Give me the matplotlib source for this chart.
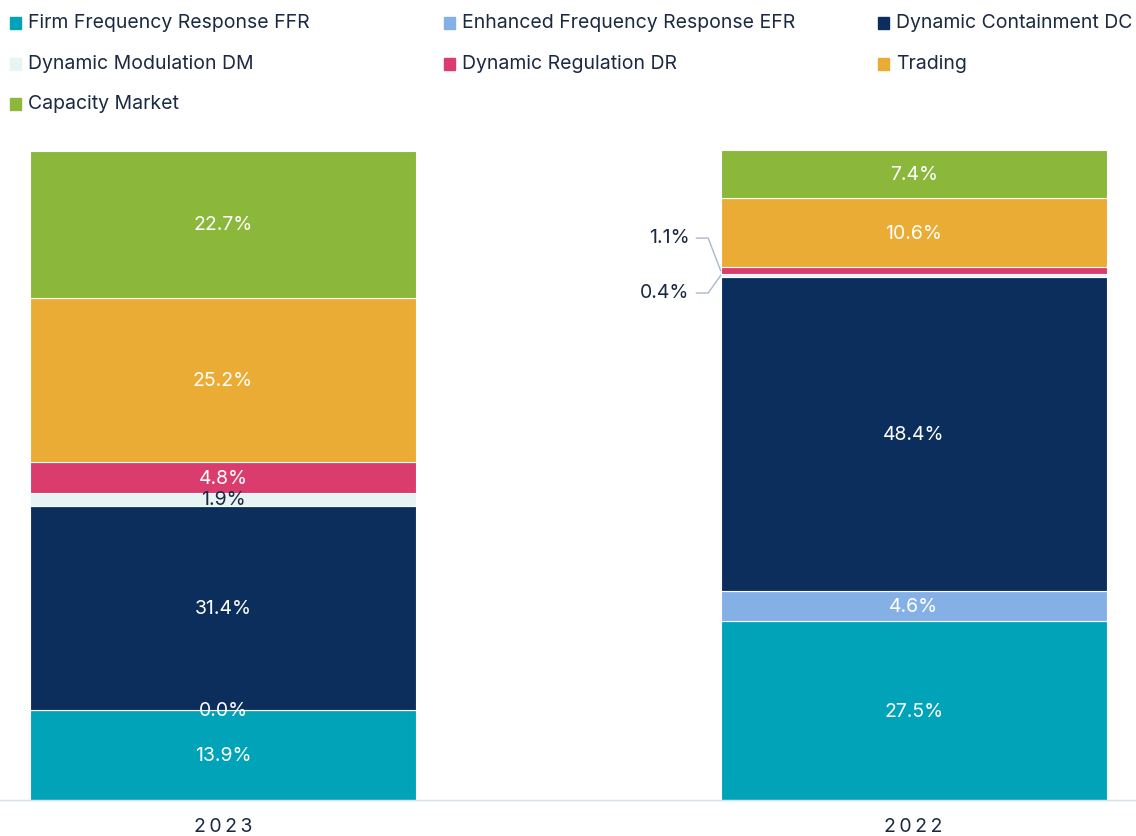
import matplotlib
matplotlib.use("Agg")
import matplotlib.pyplot as plt
from matplotlib.patches import Rectangle

plt.rcParams['font.family'] = ['Inter', 'DejaVu Sans']

years = ["2023", "2022"]
series = ["Firm Frequency Response FFR", "Enhanced Frequency Response EFR",
          "Dynamic Containment DC", "Dynamic Modulation DM",
          "Dynamic Regulation DR", "Trading", "Capacity Market"]
values = {
    "Firm Frequency Response FFR":      [13.9, 27.5],
    "Enhanced Frequency Response EFR":  [0.0, 4.6],
    "Dynamic Containment DC":           [31.4, 48.4],
    "Dynamic Modulation DM":            [1.9, 0.4],
    "Dynamic Regulation DR":            [4.8, 1.1],
    "Trading":                          [25.2, 10.6],
    "Capacity Market":                  [22.7, 7.4],
}
colors = ["#00a3b7", "#84b0e6", "#0b2e5c", "#e6f4f4", "#db3c6e", "#ebac35", "#8bb73b"]
label_colors = ["white", "white", "white", "#1b2a41", "white", "white", "white"]
text_color = "#1b2a41"

fig = plt.figure(figsize=(11.36, 8.36), dpi=100)
ax = fig.add_axes([0, 36/836, 1, 650/836])

x = [0, 1]
width = 0.559
bottom = [0.0, 0.0]
for s, c, lc in zip(series, colors, label_colors):
    v = values[s]
    ax.bar(x, v, width, bottom=bottom, color=c, edgecolor="white", linewidth=0.8)
    for i in range(2):
        cy = bottom[i] + v[i] / 2
        if i == 1 and v[i] < 2:
            continue
        ax.text(x[i], cy - 0.15, f"{v[i]:.1f}%", ha="center", va="center",
                color=lc, fontsize=14)
    bottom = [b + vv for b, vv in zip(bottom, v)]

# outside labels with leader lines for small 2022 segments
b22 = [0.0]
for s in series:
    b22.append(b22[-1] + values[s][1])
left_edge = 1 - width / 2
outside = {3: 78.0, 4: 86.45}  # label y positions (data units)
for idx, ly in outside.items():
    seg_mid = b22[idx] + values[series[idx]][1] / 2
    ax.plot([left_edge - 0.035, left_edge - 0.018, left_edge],
            [ly, ly, seg_mid], color="#aab8cc", lw=1.0, clip_on=False)
    ax.text(left_edge - 0.045, ly, f"{values[series[idx]][1]:.1f}%",
            ha="right", va="center", color=text_color, fontsize=14)

ax.set_xlim(-0.323, 1.322)
ax.set_ylim(0, 100)
for sp in ["top", "right", "left"]:
    ax.spines[sp].set_visible(False)
ax.spines["bottom"].set_color("#d6e0ea")
ax.spines["bottom"].set_linewidth(1.0)
ax.set_yticks([])
ax.set_xticks(x)
ax.set_xticklabels(["\u2009".join(y) for y in years], fontsize=14, color=text_color)
ax.tick_params(axis="x", length=0, pad=13)

# legend (manual, 3 columns)
col_x = [10, 444, 878]
row_y = [23, 64, 104]
W, H = 1136, 836
for k, (s, c) in enumerate(zip(series, colors)):
    r, ci = divmod(k, 3)
    px, py = col_x[ci], row_y[r]
    fig.patches.append(Rectangle((px / W, (H - py - 5.5) / H), 11 / W, 11 / H,
                                 transform=fig.transFigure, color=c))
    fig.text((px + 18) / W, (H - py) / H, s, ha="left", va="center",
             fontsize=14, color=text_color)

fig.savefig("out.png", dpi=100)
